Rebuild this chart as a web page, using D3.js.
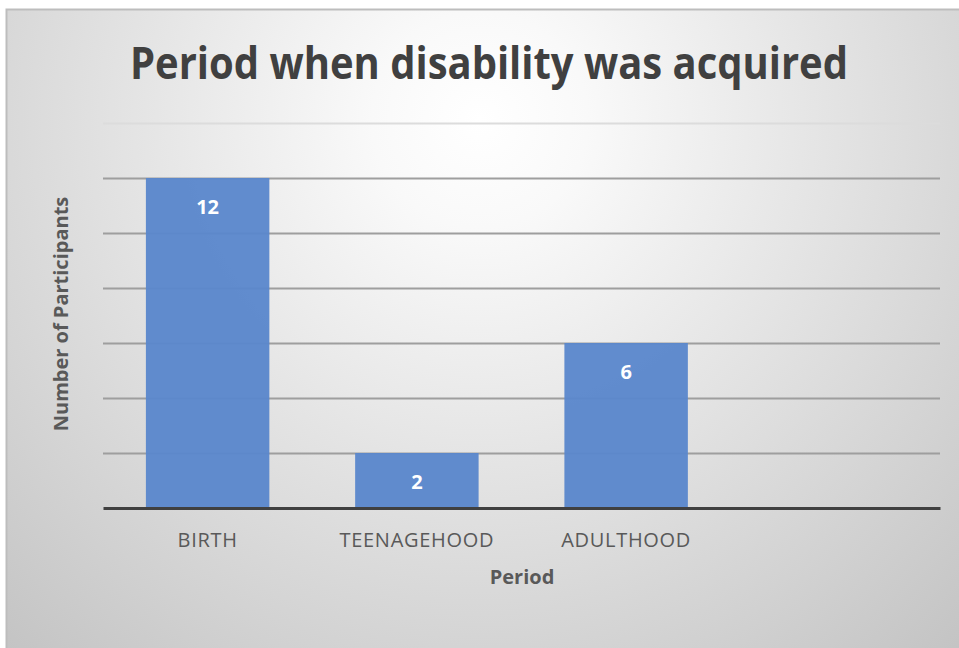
<!DOCTYPE html>
<html>
<head>
<meta charset="utf-8">
<script src="https://cdn.jsdelivr.net/npm/d3@7"></script>
<style>
  html, body { margin: 0; padding: 0; background: #ffffff; }
  svg { display: block; }
  text { font-family: "Open Sans", "Noto Sans", sans-serif; }
</style>
</head>
<body>
<svg id="chart" width="959" height="648"></svg>
<script>
// Period when disability was acquired — participant counts
const categories = ["BIRTH", "TEENAGEHOOD", "ADULTHOOD", ""];
const participants = [12, 2, 6, null];
const gridTicks = [0, 2, 4, 6, 8, 10, 12, 14];

const svg = d3.select("#chart");
const W = 959, H = 648;

// soft radial background of the chart frame
const defs = svg.append("defs");
const grad = defs.append("radialGradient")
  .attr("id", "bg")
  .attr("gradientUnits", "userSpaceOnUse")
  .attr("cx", 480).attr("cy", 120).attr("r", 720);
grad.append("stop").attr("offset", 0).attr("stop-color", "#ffffff");
grad.append("stop").attr("offset", 0.15).attr("stop-color", "#f9f9f9");
grad.append("stop").attr("offset", 1).attr("stop-color", "#c3c3c3");

svg.append("rect")
  .attr("x", 6.5).attr("y", 9.5)
  .attr("width", W).attr("height", H)
  .attr("fill", "url(#bg)")
  .attr("stroke", "#bdbdbd").attr("stroke-width", 2);

const plot = { left: 103, right: 940, top: 123, bottom: 508 };

const x = d3.scaleBand()
  .domain(categories)
  .range([plot.left, plot.right])
  .paddingInner(0.41)
  .paddingOuter(0.205);

const y = d3.scaleLinear()
  .domain([0, 14])
  .range([plot.bottom, plot.top]);

// horizontal gridlines (no tick labels)
const grid = d3.axisLeft(y)
  .tickValues(gridTicks.slice(1))
  .tickSize(-(plot.right - plot.left))
  .tickFormat("");
const gridG = svg.append("g")
  .attr("transform", `translate(${plot.left},0)`)
  .call(grid);
gridG.select(".domain").remove();
gridG.selectAll(".tick line")
  .attr("stroke", d => d === 14 ? "#dcdcdc" : "#9e9e9e")
  .attr("stroke-width", 2);

// bars
const data = categories.map((c, i) => ({ cat: c, value: participants[i] }))
  .filter(d => d.value != null);

svg.append("g").selectAll("rect")
  .data(data)
  .join("rect")
  .attr("x", d => x(d.cat))
  .attr("width", x.bandwidth())
  .attr("y", d => y(d.value))
  .attr("height", d => y(0) - y(d.value))
  .attr("fill", "#5b87cc")
  .attr("fill-opacity", 0.96);

// value labels inside bar tops
svg.append("g").selectAll("text")
  .data(data)
  .join("text")
  .attr("x", d => x(d.cat) + x.bandwidth() / 2)
  .attr("y", d => y(d.value) + 36)
  .attr("text-anchor", "middle")
  .attr("fill", "#ffffff")
  .attr("font-weight", 700)
  .attr("font-size", 20)
  .text(d => d.value);

// category axis with baseline
const xAxis = d3.axisBottom(x).tickSize(0).tickPadding(0);
const xg = svg.append("g")
  .attr("transform", `translate(0,${plot.bottom})`)
  .call(xAxis);
xg.select(".domain")
  .attr("stroke", "#404040")
  .attr("stroke-width", 3);
xg.selectAll(".tick text")
  .attr("y", 39)
  .attr("dy", 0)
  .attr("fill", "#595959")
  .attr("font-size", 20)
  .attr("letter-spacing", 0.7)
  .style("font-family", "'Open Sans', sans-serif");

// titles
svg.append("text")
  .attr("x", 489).attr("y", 79)
  .attr("text-anchor", "middle")
  .attr("fill", "#404040")
  .attr("font-weight", 700)
  .attr("font-size", 44)
  .attr("textLength", 718)
  .attr("lengthAdjust", "spacingAndGlyphs")
  .text("Period when disability was acquired");

svg.append("text")
  .attr("x", 522).attr("y", 584)
  .attr("text-anchor", "middle")
  .attr("fill", "#595959")
  .attr("font-weight", 700)
  .attr("font-size", 20)
  .text("Period");

svg.append("text")
  .attr("transform", "translate(68,314) rotate(-90)")
  .attr("text-anchor", "middle")
  .attr("fill", "#595959")
  .attr("font-weight", 700)
  .attr("font-size", 20)
  .text("Number of Participants");
</script>
</body>
</html>
